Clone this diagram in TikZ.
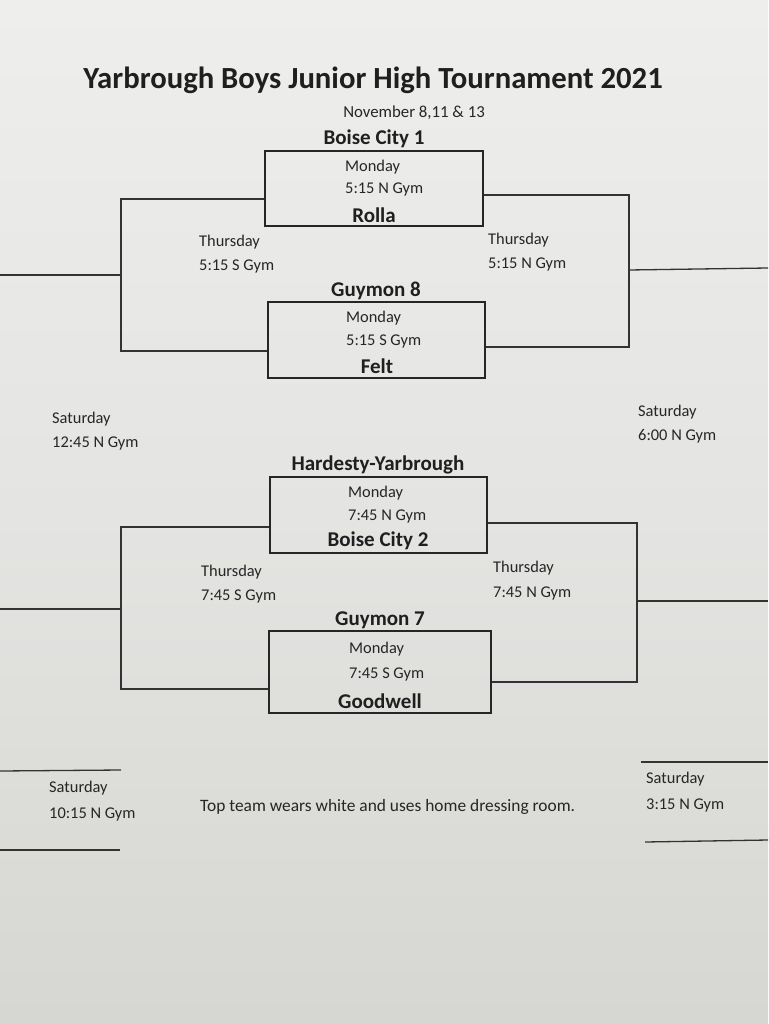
\documentclass[tikz,border=0pt]{standalone}
\usepackage{fontspec}
\setmainfont{Carlito}
\begin{document}
\begin{tikzpicture}[x=1pt,y=-1pt,
  box/.style={draw=black!85,line width=2.4pt,inner sep=0pt},
  link/.style={draw=black!80,line width=1.3pt},
  team/.style={font=\fontsize{21}{21}\selectfont\bfseries,text=black!88,inner sep=0pt},
  info/.style={font=\fontsize{16.4}{16.4}\selectfont,text=black!85,inner sep=0pt,anchor=west}]
\shade[top color={rgb,255:red,238;green,238;blue,237},bottom color={rgb,255:red,214;green,214;blue,210},middle color={rgb,255:red,228;green,228;blue,226}] (0,0) rectangle (768,1024);
\useasboundingbox (0,0) rectangle (768,1024);

% title
\node[font=\fontsize{30.7}{30.7}\selectfont\bfseries,text=black!88,inner sep=0pt] (title) at (373,80) {Yarbrough Boys Junior High Tournament 2021};
\node[font=\fontsize{16.8}{16.8}\selectfont,text=black!85,inner sep=0pt] (sub) at (414,113) {November 8,11 \& 13};

% boxes
\node[box,minimum width=218,minimum height=75] (b1) at (374,188.5) {};
\node[box,minimum width=217,minimum height=76] (b2) at (376.5,340) {};
\node[box,minimum width=217,minimum height=76] (b3) at (378.5,515) {};
\node[box,minimum width=222,minimum height=82] (b4) at (380,672) {};

% team names
\node[team] (t1) at (374,139) {Boise City 1};
\node[team] (t2) at (374,215) {Rolla};
\node[team] (t3) at (376,291) {Guymon 8};
\node[team] (t4) at (377,366) {Felt};
\node[team] (t5) at (378,465) {Hardesty-Yarbrough};
\node[team] (t6) at (378,541) {Boise City 2};
\node[team] (t7) at (380,620) {Guymon 7};
\node[team] (t8) at (380,701) {Goodwell};

% box info
\node[info] (m1) at (345,167) {Monday};
\node[info] (g1) at (345,190) {5:15 N Gym};
\node[info] (m2) at (346,318) {Monday};
\node[info] (g2) at (346,341) {5:15 S Gym};
\node[info] (m3) at (348,493) {Monday};
\node[info] (g3) at (348,516) {7:45 N Gym};
\node[info] (m4) at (349,649) {Monday};
\node[info] (g4) at (349,674) {7:45 S Gym};

% thursday labels
\node[info] (th1) at (199,242) {Thursday};
\node[info] (tg1) at (199,266) {5:15 S Gym};
\node[info] (th2) at (488,240) {Thursday};
\node[info] (tg2) at (488,264) {5:15 N Gym};
\node[info] (th3) at (201,572) {Thursday};
\node[info] (tg3) at (201,596) {7:45 S Gym};
\node[info] (th4) at (493,568) {Thursday};
\node[info] (tg4) at (493,593) {7:45 N Gym};

% saturday labels
\node[info] (s1) at (52,419) {Saturday};
\node[info] (sg1) at (52,443) {12:45 N Gym};
\node[info] (s2) at (638,412) {Saturday};
\node[info] (sg2) at (638,436) {6:00 N Gym};
\node[info] (s3) at (49,788) {Saturday};
\node[info] (sg3) at (49,814) {10:15 N Gym};
\node[info] (s4) at (646,779) {Saturday};
\node[info] (sg4) at (646,805) {3:15 N Gym};

\node[info,font=\fontsize{17.4}{17.4}\selectfont] (note) at (200,807) {Top team wears white and uses home dressing room.};

% junctions and free ends
\coordinate (L1) at (121,275);
\coordinate (E1) at (0,275);
\coordinate (R1) at (629,270);
\coordinate (E2) at (768,268);
\coordinate (L2) at (121,609);
\coordinate (E3) at (0,609);
\coordinate (R2) at (637,601);
\coordinate (E4) at (768,601);

% top bracket
\draw[link] ([yshift=-10.5pt]b1.west) -| (L1) |- ([yshift=-11pt]b2.west);
\draw[link] (L1) -- (E1);
\draw[link] ([yshift=-6.5pt]b1.east) -| (R1) |- ([yshift=-7pt]b2.east);
\draw[link] (R1) -- (E2);

% bottom bracket
\draw[link] ([yshift=-12pt]b3.west) -| (L2) |- ([yshift=-17pt]b4.west);
\draw[link] (L2) -- (E3);
\draw[link] ([yshift=-8pt]b3.east) -| (R2) |- ([yshift=-10pt]b4.east);
\draw[link] (R2) -- (E4);

% final lines
\coordinate (f1a) at (0,771); \coordinate (f1b) at (121,770);
\coordinate (f2a) at (0,850); \coordinate (f2b) at (120,850);
\coordinate (f3a) at (641,762); \coordinate (f3b) at (768,762);
\coordinate (f4a) at (645,842); \coordinate (f4b) at (768,840);
\draw[link] (f1a) -- (f1b);
\draw[link] (f2a) -- (f2b);
\draw[link] (f3a) -- (f3b);
\draw[link] (f4a) -- (f4b);
\end{tikzpicture}
\end{document}
